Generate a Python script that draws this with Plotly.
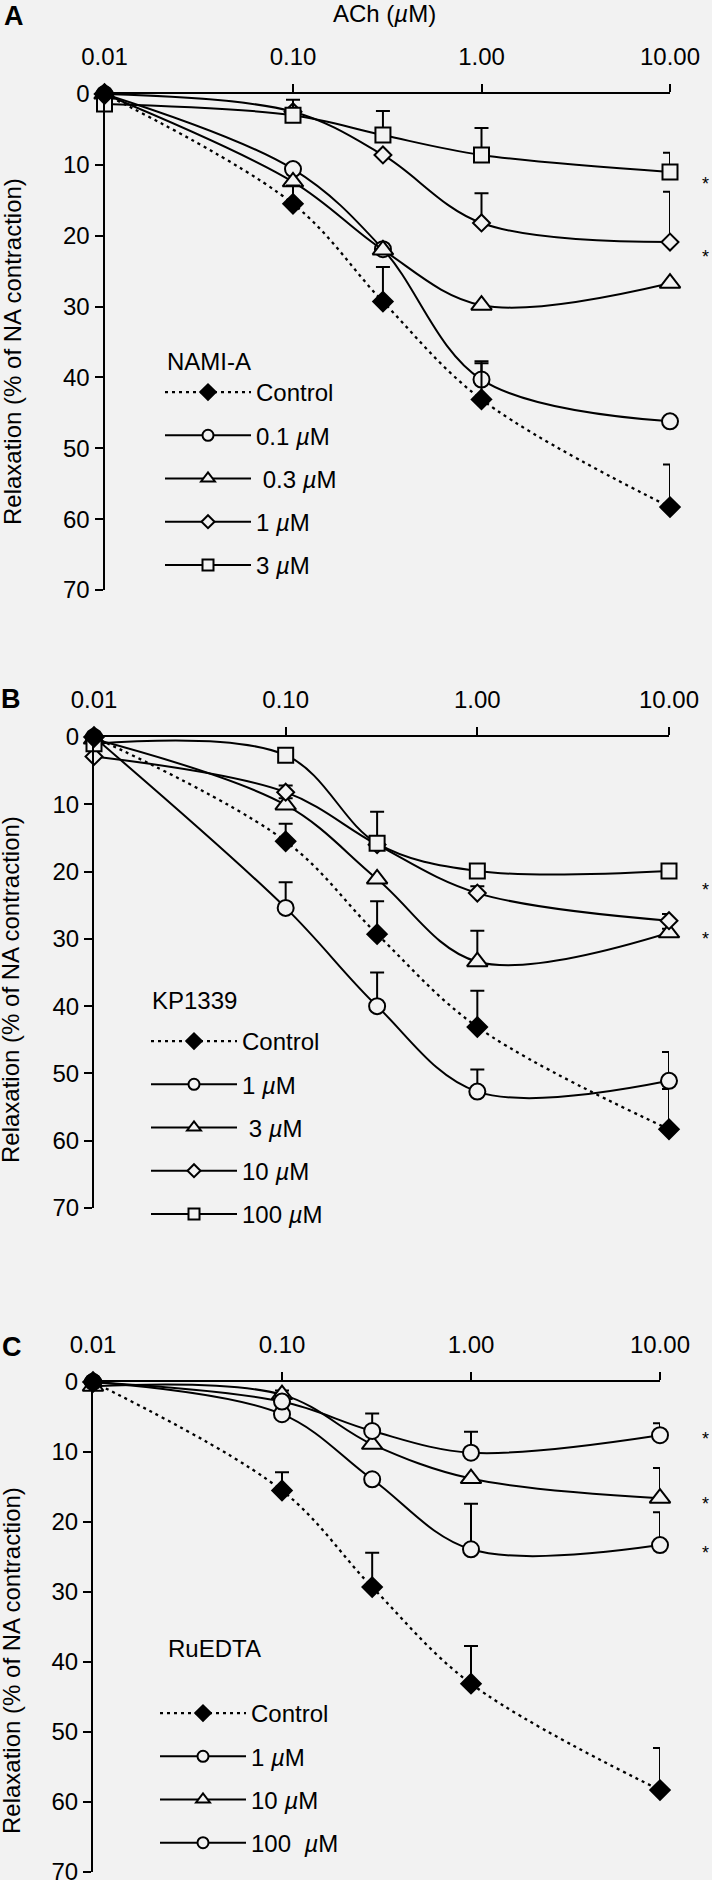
import plotly.graph_objects as go

# ---------------- data ----------------
conc = [0.01, 0.1, 0.3, 1, 10]
x_tickvals = [0.01, 0.1, 1, 10]
x_ticktext = ["0.01", "0.10", "1.00", "10.00"]
y_tickvals = [0, 10, 20, 30, 40, 50, 60, 70]

ctrl = [0, 15.5, 29.3, 43.1, 58.3]
ctrl_err = [0, 2.6, 4.9, 5.4, 6.0]

# Panel A: NAMI-A
a_01 = [0, 10.6, 21.9, 40.3, 46.2]
a_01_err = [0, 0, 0, 2.3, 0]
a_03 = [0, 12.4, 22.0, 29.8, 26.7]
a_03_err = [0, 0, 0, 0, 0]
a_1 = [0, 2.5, 8.6, 18.2, 20.9]
a_1_err = [0, 0, 0, 4.2, 7.1]
a_3 = [1.4, 3.0, 5.8, 8.6, 11.0]
a_3_err = [0, 2.2, 3.4, 3.8, 2.7]
a_stars = [12.2, 22.5]

# Panel B: KP1339
b_1 = [0, 25.4, 40.0, 52.7, 51.1]
b_1_err = [0, 3.8, 5.0, 3.3, 4.3]
b_3 = [0.3, 10.1, 21.1, 33.4, 29.1]
b_3_err = [0, 1.0, 0, 4.6, 0.6]
b_10 = [2.9, 8.2, 16.0, 23.2, 27.3]
b_10_err = [0, 1.0, 0, 1.0, 1.0]
b_100 = [1.0, 2.7, 15.8, 19.9, 19.9]
b_100_err = [0, 0, 4.7, 0.5, 0]
b_stars = [22.2, 29.4]

# Panel C: RuEDTA
c_1 = [0, 4.6, 13.9, 23.9, 23.3]
c_1_err = [0, 0, 0, 6.5, 4.7]
c_10 = [0.6, 1.8, 8.9, 13.8, 16.6]
c_10_err = [0, 0.6, 0, 0, 4.3]
c_100 = [0, 2.8, 7.0, 10.1, 7.6]
c_100_err = [0, 0.8, 2.5, 3.0, 1.7]
c_stars = [7.6, 16.9, 23.9]

BG = "#f2f2f2"
FONT = "Liberation Sans, Arial, Helvetica, sans-serif"
FS = 24
W, H = 712, 1880

fig = go.Figure()


def px_x(p):
    return p / W


def px_y(p):
    return 1 - p / H


def add_series(xa, ya, y, err, symbol, size, filled=False, dashed=False):
    fig.add_trace(go.Scatter(
        x=conc, y=y, xaxis=xa, yaxis=ya, mode="lines+markers",
        line=dict(color="black", width=2.3 if dashed else 2,
                  dash="3px,4px" if dashed else "solid",
                  shape="spline", smoothing=1.0),
        marker=dict(symbol=symbol, size=size,
                    color="black" if filled else BG,
                    line=dict(color="black", width=2)),
        error_y=dict(type="data", symmetric=False, array=[0] * len(err),
                     arrayminus=err, color="black", thickness=2, width=7),
        showlegend=False, cliponaxis=False, hoverinfo="skip"))


def add_legend_entry(legend, xa, ya, name, symbol, size, filled=False, dashed=False):
    fig.add_trace(go.Scatter(
        x=[None], y=[None], xaxis=xa, yaxis=ya, mode="lines+markers",
        name=name, legend=legend,
        line=dict(color="black", width=2.3 if dashed else 2,
                  dash="3px,4px" if dashed else "solid"),
        marker=dict(symbol=symbol, size=size,
                    color="black" if filled else BG,
                    line=dict(color="black", width=2)),
        legendgroup=legend + name, showlegend=True))


# Panel A
add_series("x", "y", a_01, a_01_err, "circle", 16)
add_series("x", "y", a_03, a_03_err, "triangle-up", 18)
add_series("x", "y", a_1, a_1_err, "diamond", 13)
add_series("x", "y", a_3, a_3_err, "square", 15)
add_series("x", "y", ctrl, ctrl_err, "diamond", 15, filled=True, dashed=True)

# Panel B
add_series("x2", "y2", b_1, b_1_err, "circle", 16)
add_series("x2", "y2", b_3, b_3_err, "triangle-up", 18)
add_series("x2", "y2", b_10, b_10_err, "diamond", 13)
add_series("x2", "y2", b_100, b_100_err, "square", 15)
add_series("x2", "y2", ctrl, ctrl_err, "diamond", 15, filled=True, dashed=True)

# Panel C
add_series("x3", "y3", c_1, c_1_err, "circle", 16)
add_series("x3", "y3", c_10, c_10_err, "triangle-up", 18)
add_series("x3", "y3", c_100, c_100_err, "circle", 16)
add_series("x3", "y3", ctrl, ctrl_err, "diamond", 15, filled=True, dashed=True)

# legends
add_legend_entry("legend", "x", "y", "Control", "diamond", 12, filled=True, dashed=True)
add_legend_entry("legend", "x", "y", "0.1 <i>µ</i>M", "circle", 11)
add_legend_entry("legend", "x", "y", " 0.3 <i>µ</i>M", "triangle-up", 12)
add_legend_entry("legend", "x", "y", "1 <i>µ</i>M", "diamond", 10)
add_legend_entry("legend", "x", "y", "3 <i>µ</i>M", "square", 11)

add_legend_entry("legend2", "x2", "y2", "Control", "diamond", 12, filled=True, dashed=True)
add_legend_entry("legend2", "x2", "y2", "1 <i>µ</i>M", "circle", 11)
add_legend_entry("legend2", "x2", "y2", " 3 <i>µ</i>M", "triangle-up", 12)
add_legend_entry("legend2", "x2", "y2", "10 <i>µ</i>M", "diamond", 10)
add_legend_entry("legend2", "x2", "y2", "100 <i>µ</i>M", "square", 11)

add_legend_entry("legend3", "x3", "y3", "Control", "diamond", 12, filled=True, dashed=True)
add_legend_entry("legend3", "x3", "y3", "1 <i>µ</i>M", "circle", 11)
add_legend_entry("legend3", "x3", "y3", "10 <i>µ</i>M", "triangle-up", 12)
add_legend_entry("legend3", "x3", "y3", "100  <i>µ</i>M", "circle", 11)

axis_common = dict(showline=True, linecolor="black", linewidth=2,
                   ticks="outside", ticklen=8, tickwidth=2, tickcolor="black",
                   showgrid=False, zeroline=False, automargin=False,
                   ticklabeloverflow="allow",
                   tickfont=dict(family=FONT, size=FS, color="black"))

panels = [
    # (x0, x1, ytop, ybottom) in pixels
    (104.5, 670, 94, 590),
    (94, 669, 737, 1208),
    (93, 660, 1382, 1872),
]
layout_axes = {}
for i, (x0, x1, yt, yb) in enumerate(panels):
    sfx = "" if i == 0 else str(i + 1)
    layout_axes["xaxis" + sfx] = dict(
        type="log", range=[-2, 1], domain=[px_x(x0), px_x(x1)],
        side="top", anchor="y" + sfx, tickvals=x_tickvals,
        ticktext=x_ticktext, ticklabelstandoff=9, **axis_common)
    layout_axes["yaxis" + sfx] = dict(
        range=[70, 0], domain=[px_y(yb), px_y(yt)], anchor="x" + sfx,
        tickvals=y_tickvals, ticklabelstandoff=0, **axis_common)

annotations = []
# panel letters
for letter, (xx, yy) in zip("ABC", [(14, 16), (11, 699), (12, 1347)]):
    annotations.append(dict(text="<b>%s</b>" % letter, x=px_x(xx), y=px_y(yy),
                            xref="paper", yref="paper", showarrow=False,
                            font=dict(family=FONT, size=27, color="black"),
                            xanchor="center", yanchor="middle"))
# ACh title
annotations.append(dict(text="ACh (<i>µ</i>M)", x=px_x(384), y=px_y(14),
                        xref="paper", yref="paper", showarrow=False,
                        font=dict(family=FONT, size=FS, color="black"),
                        xanchor="center", yanchor="middle"))
# y titles
for xx, yy in [(12, 352), (11, 990), (11, 1661)]:
    annotations.append(dict(text="Relaxation (% of NA contraction)",
                            x=px_x(xx), y=px_y(yy), xref="paper", yref="paper",
                            showarrow=False, textangle=-90,
                            font=dict(family=FONT, size=FS, color="black"),
                            xanchor="center", yanchor="middle"))
# legend titles
for txt, xx, yy in [("NAMI-A", 165, 362), ("KP1339", 150, 1000), ("RuEDTA", 166, 1648)]:
    annotations.append(dict(text=txt, x=px_x(xx), y=px_y(yy), xref="paper",
                            yref="paper", showarrow=False,
                            font=dict(family=FONT, size=FS, color="black"),
                            xanchor="left", yanchor="middle"))
# asterisks
for ya, stars in [("y", a_stars), ("y2", b_stars), ("y3", c_stars)]:
    for s in stars:
        annotations.append(dict(text="*", x=px_x(705), y=s, xref="paper",
                                yref=ya, showarrow=False, yshift=-4,
                                font=dict(family=FONT, size=18, color="black"),
                                xanchor="center", yanchor="middle"))

leg_common = dict(bgcolor="rgba(0,0,0,0)", borderwidth=0, itemwidth=86,
                  tracegroupgap=9, xref="paper", yref="paper",
                  xanchor="left", yanchor="top",
                  font=dict(family=FONT, size=FS, color="black"))

fig.update_layout(
    width=W, height=H,
    margin=dict(l=0, r=0, t=0, b=0, pad=0, autoexpand=False),
    paper_bgcolor=BG, plot_bgcolor=BG,
    font=dict(family=FONT, size=FS, color="black"),
    annotations=annotations,
    legend=dict(x=px_x(160), y=px_y(370), **leg_common),
    legend2=dict(x=px_x(146), y=px_y(1019), **leg_common),
    legend3=dict(x=px_x(155), y=px_y(1691), **leg_common),
    **layout_axes)

fig.write_html(
    "out.html",
    config={"displayModeBar": False, "staticPlot": True},
    post_script=("document.body.style.margin='0';"
                 "document.body.style.padding='0';"
                 "document.body.style.background='%s';"
                 "document.documentElement.style.background='%s';") % (BG, BG))
